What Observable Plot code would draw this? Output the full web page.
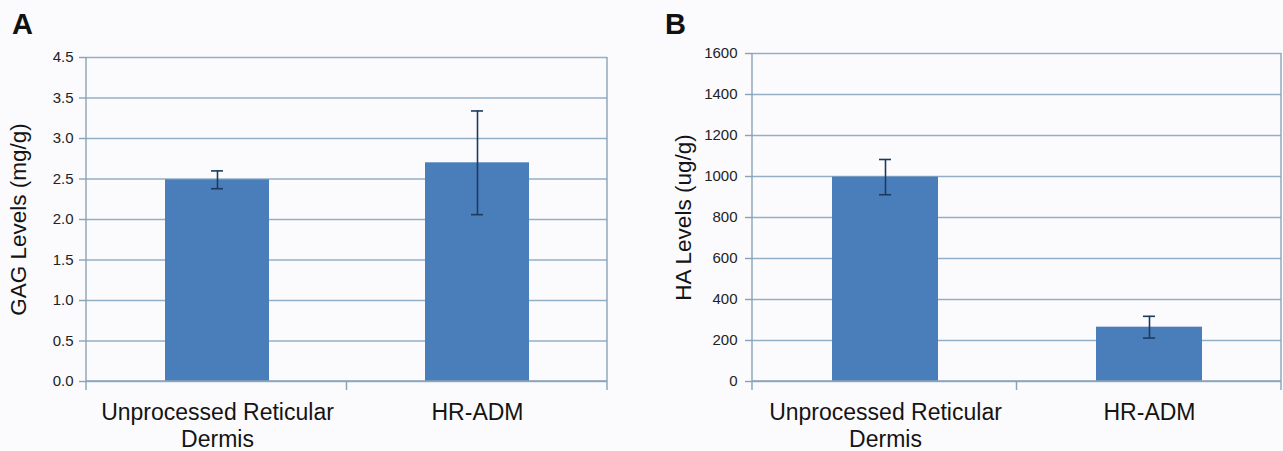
<!DOCTYPE html>
<html><head><meta charset="utf-8">
<script src="https://cdn.jsdelivr.net/npm/d3@7"></script>
<script src="https://cdn.jsdelivr.net/npm/@observablehq/plot@0.6"></script>
<style>
body{margin:0;background:#fbfbfd;font-family:"Liberation Sans",Arial,sans-serif;}
#wrap{position:relative;width:1283px;height:451px;overflow:hidden;}
.panel{position:absolute;top:0;}
.letter{position:absolute;font-weight:bold;font-size:29px;line-height:29px;color:#111;}
</style></head><body>
<div id="wrap">
  <div class="letter" style="left:12px;top:10px;">A</div>
  <div class="letter" style="left:665px;top:10px;">B</div>
</div>
<script>
// ---- data ----
const categories = ["Unprocessed Reticular\nDermis", "HR-ADM"];
const gagValues = [2.49, 2.70];
const gagErrors = [0.11, 0.64];
const haValues = [997, 265];
const haErrors = [86, 53];
const gagTicks = [0, 0.5, 1.0, 1.5, 2.0, 2.5, 3.0, 3.5, 4.0];
const gagTickLabels = ["0.0", "0.5", "1.0", "1.5", "2.0", "2.5", "3.0", "3.5", "4.5"];
const haTicks = [0, 200, 400, 600, 800, 1000, 1200, 1400, 1600];
const haTickLabels = ["0", "200", "400", "600", "800", "1000", "1200", "1400", "1600"];
const gagTitle = "GAG Levels (mg/g)";
const haTitle = "HA Levels (ug/g)";

// ---- styles ----
const barColor = "#4a7ebb";
const gridColor = "#93afc6";
const axisColor = "#8aa2b6";
const errColor = "#1b3a5f";
const font = "'Liberation Sans', Arial, sans-serif";

function frameAxis(n) {
  return (index, scales, values, dims) => {
    const {width, height, marginLeft, marginRight, marginTop, marginBottom} = dims;
    const x0 = marginLeft, x1 = width - marginRight, y0 = height - marginBottom, yt = marginTop;
    const g = d3.create("svg:g").attr("stroke", axisColor).attr("stroke-width", 1.4).attr("fill", "none");
    g.append("line").attr("x1", x0).attr("x2", x0).attr("y1", yt).attr("y2", y0 + 9);
    g.append("line").attr("x1", x1).attr("x2", x1).attr("y1", yt).attr("y2", y0 + 9);
    g.append("line").attr("x1", x0).attr("x2", x1).attr("y1", y0).attr("y2", y0);
    for (let i = 1; i < n; i++) {
      const x = x0 + i * (x1 - x0) / n;
      g.append("line").attr("x1", x).attr("x2", x).attr("y1", y0).attr("y2", y0 + 9);
    }
    return g.node();
  };
}

function panel({values, errors, ticks, tickLabels, title, domain, width, marginLeft, marginRight, marginTop, tickPadding, titleDx, capInset}) {
  const data = categories.map((c, i) => ({cat: c, value: values[i], err: errors[i]}));
  return Plot.plot({
    width, height: 451, marginLeft, marginRight, marginTop, marginBottom: 70,
    style: {background: "transparent", fontFamily: font, color: "#1e1e1e"},
    x: {domain: categories, paddingInner: 0.6, paddingOuter: 0.3, axis: null},
    y: {domain, axis: null},
    marks: [
      Plot.ruleY(ticks, {stroke: gridColor, strokeWidth: 1.4}),
      Plot.barY(data, {x: "cat", y: "value", fill: barColor}),
      Plot.ruleX(data, {x: "cat", y1: d => d.value - d.err, y2: d => d.value + d.err, stroke: errColor, strokeWidth: 1.6}),
      Plot.tickY(data, {x: "cat", y: d => d.value + d.err, insetLeft: capInset, insetRight: capInset, stroke: errColor, strokeWidth: 1.6}),
      Plot.tickY(data, {x: "cat", y: d => d.value - d.err, insetLeft: capInset, insetRight: capInset, stroke: errColor, strokeWidth: 1.6}),
      frameAxis(categories.length),
      Plot.axisY({ticks, tickFormat: d => tickLabels[ticks.indexOf(d)], tickSize: 7, tickPadding, fontSize: 15, stroke: axisColor, strokeWidth: 1.4, fill: "#222", label: null}),
      Plot.axisX({tickSize: 0, tickPadding: 19, fontSize: 23, lineHeight: 1.17, fill: "#141414", label: null}),
      Plot.text([title], {frameAnchor: "left", textAnchor: "middle", lineAnchor: "middle", rotate: -90, dx: titleDx, fontSize: 22.5, fill: "#141414"})
    ]
  });
}

const wrap = document.getElementById("wrap");
const a = panel({values: gagValues, errors: gagErrors, ticks: gagTicks, tickLabels: gagTickLabels, title: gagTitle,
  domain: [0, 4], width: 640, marginLeft: 86, marginRight: 33, marginTop: 57, tickPadding: 6, titleDx: -68, capInset: 46});
a.classList.add("panel"); a.style.left = "0px";
const b = panel({values: haValues, errors: haErrors, ticks: haTicks, tickLabels: haTickLabels, title: haTitle,
  domain: [0, 1600], width: 643, marginLeft: 112, marginRight: 2, marginTop: 53, tickPadding: 8, titleDx: -69, capInset: 47});
b.classList.add("panel"); b.style.left = "640px";
wrap.appendChild(a);
wrap.appendChild(b);
</script>
</body></html>
